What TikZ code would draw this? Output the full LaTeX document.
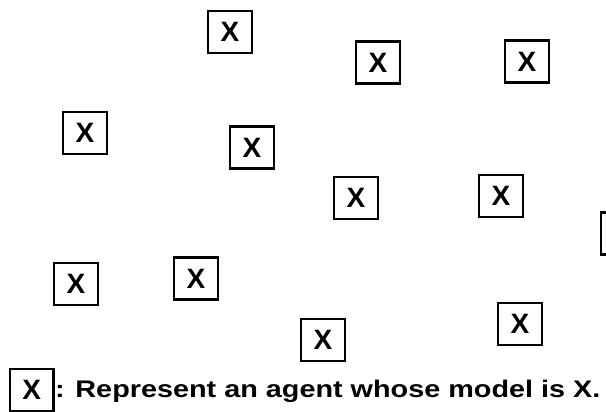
\documentclass[tikz,border=0pt]{standalone}
\usepackage{fontspec}
\setmainfont{Liberation Sans}
\newfontfamily\legfont[FakeStretch=1.2]{Liberation Sans}
\begin{document}
\begin{tikzpicture}[x=1pt,y=-1pt,
  agent/.style={draw, line width=2.4pt, minimum width=43.5pt, minimum height=42pt, inner sep=0pt,
    font=\fontsize{28}{28}\selectfont\bfseries},
  legendtext/.style={anchor=west, inner sep=0pt, font=\legfont\fontsize{24}{24}\selectfont\bfseries}
]
\useasboundingbox (0,0) rectangle (606,412);
\clip (0,0) rectangle (606,412);
\node[agent] (a1) at (230,32) {X};
\node[agent] (a2) at (378,62.5) {X};
\node[agent] (a3) at (527,61.5) {X};
\node[agent] (a4) at (85,133) {X};
\node[agent] (a5) at (252,147.5) {X};
\node[agent] (a6) at (356,198) {X};
\node[agent] (a7) at (501,196) {X};
\node[agent] (a8) at (623,233.5) {X};
\node[agent] (a9) at (76,284) {X};
\node[agent] (a10) at (196,278.5) {X};
\node[agent] (a11) at (323,340) {X};
\node[agent] (a12) at (520,324) {X};
\node[agent] (leg) at (31.7,390) {X};
\node[legendtext] (legtext) at (55,391) {: Represent an agent whose model is X.};
\end{tikzpicture}
\end{document}
